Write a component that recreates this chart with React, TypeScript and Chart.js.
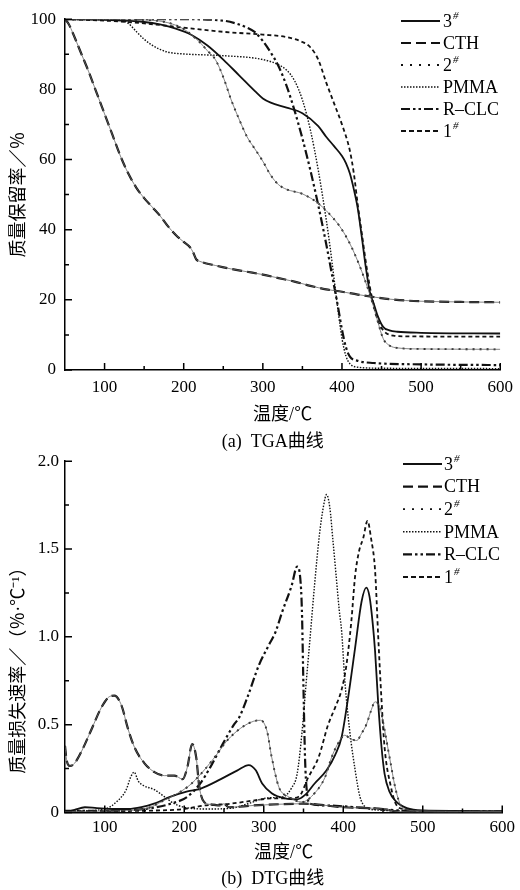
import { useEffect, useRef } from 'react';
import { Chart, registerables } from 'chart.js';

Chart.register(...registerables);

const FONT = '"Liberation Serif", "Noto Sans CJK SC", serif';

// ---------- labels ----------
const seriesNames = ['3#', 'CTH', '2#', 'PMMA', 'R–CLC', '1#'];
const xTickValues = [100, 200, 300, 400, 500, 600];
const xMinorValues = [150, 250, 350, 450, 550];
const tgaTickValues = [0, 20, 40, 60, 80, 100];
const tgaTickLabels = ['0', '20', '40', '60', '80', '100'];
const tgaMinorValues = [10, 30, 50, 70, 90];
const dtgTickValues = [0, 0.5, 1.0, 1.5, 2.0];
const dtgTickLabels = ['0', '0.5', '1.0', '1.5', '2.0'];
const dtgMinorValues = [0.25, 0.75, 1.25, 1.75];

// ---------- TGA data (temperature / mass retention %) ----------
const tga3T = [50, 100, 150, 170, 190, 210, 230, 250, 270, 290, 300, 310, 330, 350, 370, 380, 390, 400, 405, 410, 415, 420, 425, 430, 435, 440, 445, 452, 460, 470, 500, 600];
const tga3V = [100, 99.8, 99.2, 98.5, 97.3, 95.5, 92.5, 88.5, 84, 79.5, 77.4, 76.2, 74.8, 73.2, 69.5, 66.5, 63.8, 61, 59, 56, 51.5, 46, 38, 29.5, 22.5, 19, 15.5, 12.3, 11.3, 10.9, 10.6, 10.4];

const tgaCthT = [50, 55, 60, 70, 80, 90, 100, 110, 120, 130, 140, 150, 160, 170, 180, 190, 200, 208, 212, 216, 220, 240, 260, 280, 300, 320, 340, 360, 380, 400, 420, 440, 460, 480, 500, 550, 600];
const tgaCthV = [100, 98.5, 96, 90.5, 85, 79, 73, 67, 61, 56, 52, 49, 46.5, 44, 41, 38.5, 36.5, 35, 33.5, 31.5, 31, 29.8, 28.8, 28, 27.2, 26.2, 25.2, 24, 23, 22.3, 21.5, 20.8, 20.2, 19.8, 19.6, 19.4, 19.3];

const tga2T = [50, 150, 180, 200, 210, 220, 230, 240, 250, 260, 270, 280, 290, 300, 310, 320, 330, 350, 370, 390, 400, 410, 420, 430, 440, 445, 452, 460, 470, 500, 600];
const tga2V = [100, 99.8, 99, 97.2, 95.5, 93.5, 91, 88.5, 83.5, 77, 71.5, 66.5, 63, 59.5, 55.5, 52.8, 51.5, 50.2, 47.5, 43, 40, 36, 31, 25, 18, 14, 9, 7, 6.3, 6, 5.9];

const tgaPmmaT = [50, 120, 130, 140, 150, 160, 170, 180, 200, 250, 300, 320, 330, 340, 350, 360, 370, 380, 385, 390, 395, 400, 405, 410, 420, 450, 600];
const tgaPmmaV = [100, 99.7, 98.8, 96.5, 94.3, 92.6, 91.4, 90.6, 90.1, 89.6, 88.5, 87, 85.5, 82.5, 77, 68.5, 57, 43, 35, 26, 17, 9, 4, 1.8, 0.8, 0.5, 0.4];

const tgaRclcT = [50, 200, 250, 270, 280, 290, 300, 310, 320, 330, 340, 350, 360, 370, 380, 390, 395, 400, 405, 410, 420, 440, 500, 600];
const tgaRclcV = [100, 100, 99.6, 98.5, 97.6, 96.3, 93.8, 90.5, 86.5, 81, 74, 66, 57, 47, 36, 24, 18, 11.5, 6.5, 3.8, 2.6, 2.0, 1.6, 1.4];

const tga1T = [50, 100, 150, 200, 250, 300, 330, 350, 360, 370, 380, 390, 400, 410, 415, 420, 425, 430, 435, 440, 445, 450, 456, 465, 480, 600];
const tga1V = [100, 99.6, 98.8, 97.6, 96.4, 95.6, 94.9, 93.5, 92, 88.5, 82, 76, 70, 62.5, 56, 47, 39, 31, 24, 18.5, 14.3, 12, 10.5, 9.8, 9.6, 9.5];

// ---------- DTG data (temperature / mass loss rate %/°C) ----------
const dtg3T = [50, 62, 75, 90, 110, 130, 146, 162, 183, 204, 220, 246, 267, 281, 290, 298, 310, 327, 342, 352, 364, 379, 390, 398, 406, 415, 423, 429, 433, 437, 440, 444, 448, 452, 458, 466, 480, 500, 600];
const dtg3V = [0.0, 0.015, 0.03, 0.025, 0.02, 0.02, 0.03, 0.05, 0.09, 0.12, 0.135, 0.19, 0.24, 0.27, 0.24, 0.165, 0.11, 0.08, 0.075, 0.1, 0.165, 0.24, 0.33, 0.43, 0.65, 0.94, 1.2, 1.28, 1.23, 1.08, 0.92, 0.62, 0.38, 0.22, 0.12, 0.065, 0.025, 0.012, 0.008];

const dtgCthT = [50, 52, 56, 62, 71, 83, 96, 106, 112, 121, 129, 137.5, 150, 162.5, 175, 187.5, 198, 204, 210, 215, 219, 225, 235, 246, 250, 256, 287, 350, 400, 450, 470, 500, 600];
const dtgCthV = [0.38, 0.3, 0.265, 0.28, 0.35, 0.47, 0.6, 0.66, 0.665, 0.61, 0.48, 0.37, 0.28, 0.23, 0.21, 0.21, 0.19, 0.26, 0.39, 0.315, 0.145, 0.06, 0.045, 0.04, 0.05, 0.03, 0.04, 0.05, 0.03, 0.02, 0.005, 0.003, 0.002];

const dtg2T = [50, 100, 150, 175, 204, 217, 237.5, 254, 271, 287.5, 296, 304, 310, 319, 331, 348, 364, 377, 385, 393, 402, 409, 417, 423, 429, 435, 440, 446, 452, 459.6, 466, 474, 490, 600];
const dtg2V = [0.005, 0.008, 0.02, 0.07, 0.145, 0.2, 0.31, 0.41, 0.48, 0.52, 0.525, 0.465, 0.315, 0.145, 0.09, 0.06, 0.11, 0.2, 0.31, 0.39, 0.44, 0.42, 0.41, 0.45, 0.5, 0.58, 0.63, 0.6, 0.47, 0.28, 0.13, 0.03, 0.01, 0.005];

const dtgPmmaT = [50, 100, 117, 127, 132.5, 137, 142, 148, 162.5, 175, 187.5, 200, 230, 260, 280, 300, 315, 325, 335, 342, 348, 353, 358, 364, 370, 375, 379, 383, 387, 391, 395, 398, 402, 408, 415, 421, 427, 440, 500, 600];
const dtgPmmaV = [0.005, 0.02, 0.07, 0.13, 0.2, 0.23, 0.18, 0.155, 0.13, 0.09, 0.05, 0.03, 0.02, 0.025, 0.05, 0.08, 0.085, 0.09, 0.14, 0.22, 0.45, 0.72, 0.98, 1.3, 1.58, 1.74, 1.81, 1.74, 1.55, 1.35, 1.15, 1.03, 0.75, 0.47, 0.24, 0.09, 0.035, 0.015, 0.008, 0.005];

const dtgRclcT = [50, 100, 150, 183, 204, 220, 233, 246, 262.5, 269, 279, 294, 306, 315, 323, 335, 342, 346, 348, 350, 352, 354, 358, 380, 400, 430, 480, 600];
const dtgRclcV = [0.01, 0.01, 0.02, 0.05, 0.09, 0.165, 0.26, 0.37, 0.5, 0.54, 0.65, 0.84, 0.95, 1.03, 1.14, 1.29, 1.4, 1.33, 1.15, 0.7, 0.3, 0.13, 0.05, 0.04, 0.035, 0.025, 0.01, 0.005];

const dtg1T = [50, 100, 150, 200, 225, 258, 290, 310, 331, 344, 356, 369, 381, 390, 398, 404, 410, 415, 420, 425, 430.5, 435, 440, 444, 448, 452, 460, 466, 475, 500, 600];
const dtg1V = [0.005, 0.008, 0.01, 0.02, 0.04, 0.05, 0.07, 0.08, 0.08, 0.09, 0.2, 0.315, 0.5, 0.6, 0.7, 0.84, 1.08, 1.35, 1.49, 1.56, 1.66, 1.56, 1.38, 1.0, 0.65, 0.37, 0.145, 0.05, 0.02, 0.008, 0.005];

const tgaSeries = [[tga3T, tga3V], [tgaCthT, tgaCthV], [tga2T, tga2V], [tgaPmmaT, tgaPmmaV], [tgaRclcT, tgaRclcV], [tga1T, tga1V]];
const dtgSeries = [[dtg3T, dtg3V], [dtgCthT, dtgCthV], [dtg2T, dtg2V], [dtgPmmaT, dtgPmmaV], [dtgRclcT, dtgRclcV], [dtg1T, dtg1V]];

// ---------- styles ----------
const lineStyles = [
  { dash: [], width: 1.8, legendDash: [] },
  { dash: [10, 5], width: 2.2, legendDash: [10, 5] },
  { dash: [2, 5], width: 1.8, legendDash: [2, 7] },
  { dash: [1.5, 1.5], width: 1.4, legendDash: [1.5, 1.5] },
  { dash: [9, 3, 2.5, 3, 2.5, 3], width: 2.2, legendDash: [9, 3, 2.5, 3, 2.5, 3] },
  { dash: [4, 3], width: 1.8, legendDash: [5, 3] },
];
const underlaySeries = [1, 2];

const toPoints = (t: number[], v: number[]) => t.map((x, i) => ({ x, y: v[i] }));

function buildDatasets(series: number[][][]) {
  const under = underlaySeries.map((i) => ({
    label: '',
    isUnderlay: true,
    data: toPoints(series[i][0], series[i][1]),
    borderColor: '#666',
    borderWidth: 0.8,
    pointRadius: 0,
    cubicInterpolationMode: 'monotone',
    fill: false,
  }));
  const main = series.map((s, i) => ({
    label: seriesNames[i],
    data: toPoints(s[0], s[1]),
    borderColor: '#111',
    borderWidth: lineStyles[i].width,
    borderDash: lineStyles[i].dash,
    legendDash: lineStyles[i].legendDash,
    pointRadius: 0,
    cubicInterpolationMode: 'monotone',
    fill: false,
  }));
  return [...under, ...main];
}

type LegendPos = { x0: number; x1: number; tx: number; y: number; step: number };

function makeLegendPlugin(pos: LegendPos) {
  return {
    id: 'lineLegend',
    afterDraw(chart: any) {
      const ctx = chart.ctx;
      const items = chart.data.datasets.filter((d: any) => !d.isUnderlay);
      ctx.save();
      items.forEach((ds: any, i: number) => {
        const y = pos.y + i * pos.step;
        ctx.beginPath();
        ctx.setLineDash(ds.legendDash || []);
        ctx.lineWidth = ds.borderWidth;
        ctx.strokeStyle = ds.borderColor;
        ctx.moveTo(pos.x0, y);
        ctx.lineTo(pos.x1, y);
        ctx.stroke();
        ctx.setLineDash([]);
        const label: string = ds.label;
        const base = label.replace('#', '');
        ctx.fillStyle = '#000';
        ctx.textBaseline = 'middle';
        ctx.textAlign = 'left';
        ctx.font = `18px ${FONT}`;
        ctx.fillText(base, pos.tx, y + 1);
        if (label.endsWith('#')) {
          const w = ctx.measureText(base).width;
          ctx.font = `italic 11px ${FONT}`;
          ctx.fillText('#', pos.tx + w + 1, y - 5);
        }
      });
      ctx.restore();
    },
  };
}

function makeTickPlugin(yMajor: number[], yMinor: number[]) {
  return {
    id: 'innerTicks',
    afterDraw(chart: any) {
      const ctx = chart.ctx;
      const xs = chart.scales.x;
      const ys = chart.scales.y;
      const { left, bottom } = chart.chartArea;
      ctx.save();
      ctx.strokeStyle = '#000';
      ctx.lineWidth = 1.5;
      ctx.setLineDash([]);
      ctx.beginPath();
      xTickValues.forEach((v) => {
        const p = xs.getPixelForValue(v);
        ctx.moveTo(p, bottom);
        ctx.lineTo(p, bottom - 7);
      });
      xMinorValues.forEach((v) => {
        const p = xs.getPixelForValue(v);
        ctx.moveTo(p, bottom);
        ctx.lineTo(p, bottom - 4);
      });
      yMajor.forEach((v) => {
        const p = ys.getPixelForValue(v);
        ctx.moveTo(left, p);
        ctx.lineTo(left + 7, p);
      });
      yMinor.forEach((v) => {
        const p = ys.getPixelForValue(v);
        ctx.moveTo(left, p);
        ctx.lineTo(left + 4, p);
      });
      ctx.stroke();
      ctx.restore();
    },
  };
}

type Cfg = {
  series: number[][][];
  yMax: number;
  yTicks: number[];
  yLabels: string[];
  yMinor: number[];
  yTitle: string;
  caption: string;
  padTop: number;
  xHeight: number;
  xTitlePadBottom: number;
  xTickPad: number;
  yTickPad: number;
  capPad: { top: number; bottom: number };
  legend: LegendPos;
};

function makeConfig(c: Cfg): any {
  return {
    type: 'line',
    data: { datasets: buildDatasets(c.series) },
    plugins: [makeTickPlugin(c.yTicks, c.yMinor), makeLegendPlugin(c.legend)],
    options: {
      responsive: false,
      animation: false,
      devicePixelRatio: 1,
      layout: { padding: { left: 0, right: 15, top: c.padTop, bottom: 0 } },
      plugins: {
        legend: { display: false },
        tooltip: { enabled: false },
        title: {
          display: true,
          position: 'bottom',
          text: c.caption,
          color: '#000',
          font: { family: FONT, size: 18, weight: 'normal' },
          padding: c.capPad,
        },
      },
      scales: {
        x: {
          type: 'linear',
          min: 50,
          max: 600,
          grid: { display: false, drawTicks: false },
          border: { display: true, color: '#000', width: 1.5 },
          afterBuildTicks: (s: any) => {
            s.ticks = xTickValues.map((v) => ({ value: v }));
          },
          afterFit: (s: any) => {
            s.height = c.xHeight;
          },
          ticks: {
            color: '#000',
            padding: c.xTickPad,
            maxRotation: 0,
            autoSkip: false,
            font: { family: FONT, size: 17 },
            callback: (v: number) => String(v),
          },
          title: {
            display: true,
            text: '温度/℃',
            color: '#000',
            font: { family: FONT, size: 18 },
            padding: { top: 0, bottom: c.xTitlePadBottom },
          },
        },
        y: {
          type: 'linear',
          min: 0,
          max: c.yMax,
          grid: { display: false, drawTicks: false },
          border: { display: true, color: '#000', width: 1.5 },
          afterBuildTicks: (s: any) => {
            s.ticks = c.yTicks.map((v) => ({ value: v }));
          },
          afterFit: (s: any) => {
            s.width = 65;
          },
          ticks: {
            color: '#000',
            padding: c.yTickPad,
            autoSkip: false,
            font: { family: FONT, size: 17 },
            callback: (v: number) => c.yLabels[c.yTicks.indexOf(v)] ?? '',
          },
          title: {
            display: true,
            text: c.yTitle,
            color: '#000',
            font: { family: FONT, size: 18 },
            padding: { top: 8, bottom: 0 },
          },
        },
      },
    },
  };
}

function ChartCanvas({ cfg, top, height }: { cfg: Cfg; top: number; height: number }) {
  const ref = useRef<HTMLCanvasElement | null>(null);
  useEffect(() => {
    if (!ref.current) return;
    const chart = new Chart(ref.current, makeConfig(cfg));
    return () => chart.destroy();
  }, []);
  return (
    <canvas
      ref={ref}
      width={520}
      height={height}
      style={{ position: 'absolute', left: 0, top, width: 520, height }}
    />
  );
}

const tgaCfg: Cfg = {
  series: tgaSeries,
  yMax: 100,
  yTicks: tgaTickValues,
  yLabels: tgaTickLabels,
  yMinor: tgaMinorValues,
  yTitle: '质量保留率／％',
  caption: '         (a)  TGA曲线',
  padTop: 17,
  xHeight: 59.2,
  xTitlePadBottom: 3,
  xTickPad: 7,
  yTickPad: 9,
  capPad: { top: 2, bottom: 2.2 },
  legend: { x0: 401, x1: 440, tx: 443, y: 21, step: 22 },
};

const dtgCfg: Cfg = {
  series: dtgSeries,
  yMax: 2.0,
  yTicks: dtgTickValues,
  yLabels: dtgTickLabels,
  yMinor: dtgMinorValues,
  yTitle: '质量损失速率／（％·℃⁻¹）' + '             ',
  caption: '         (b)  DTG曲线',
  padTop: 13.5,
  xHeight: 53.7,
  xTitlePadBottom: 2.4,
  xTickPad: 5,
  yTickPad: 6,
  capPad: { top: 2, bottom: 0.2 },
  legend: { x0: 403, x1: 442, tx: 444, y: 19, step: 22.6 },
};

export default function App() {
  return (
    <div style={{ position: 'absolute', left: 0, top: 0, width: 520, height: 890, background: '#fff' }}>
      <ChartCanvas cfg={tgaCfg} top={0} height={455} />
      <ChartCanvas cfg={dtgCfg} top={445} height={445} />
    </div>
  );
}
